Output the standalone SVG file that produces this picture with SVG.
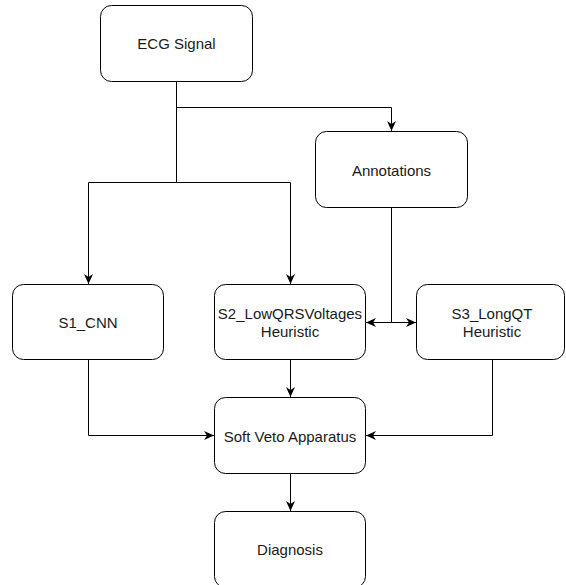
<svg xmlns="http://www.w3.org/2000/svg" width="566" height="585" viewBox="0 0 566 585">
<defs>
<marker id="ah" viewBox="0 0 10 10" refX="10" refY="5" markerWidth="10" markerHeight="10" markerUnits="userSpaceOnUse" orient="auto-start-reverse">
<path d="M0,0.5 L10,5 L0,9.5 L3,5 Z" fill="#000"/>
</marker>
<style>
.box{fill:#fff;stroke:#000;stroke-width:1}
.t{font-family:"Liberation Sans",Arial,sans-serif;font-size:15px;fill:#1a1a1a;text-anchor:middle}
.c{fill:none;stroke:#000;stroke-width:1}
</style>
</defs>
<rect width="566" height="585" fill="#fff"/>
<g id="connectors">
<path class="c" d="M176.5,81 V182.5"/>
<path class="c" d="M176.5,107.5 H391.5 V131" marker-end="url(#ah)"/>
<path class="c" d="M88.5,182.5 H290.5"/>
<path class="c" d="M88.5,182.5 V284" marker-end="url(#ah)"/>
<path class="c" d="M290.5,182.5 V284" marker-end="url(#ah)"/>
<path class="c" d="M391.5,207 V322"/>
<path class="c" d="M366,322.5 H416" marker-start="url(#ah)" marker-end="url(#ah)"/>
<path class="c" d="M290.5,359 V397" marker-end="url(#ah)"/>
<path class="c" d="M88.5,359 V435.5 H214" marker-end="url(#ah)"/>
<path class="c" d="M492.5,359 V435.5 H366" marker-end="url(#ah)"/>
<path class="c" d="M290.5,473 V511" marker-end="url(#ah)"/>
</g>
<g id="ecg"><rect class="box" x="100.5" y="5.5" width="152" height="76" rx="11"/><text class="t" x="176.5" y="49">ECG Signal</text></g>
<g id="annotations"><rect class="box" x="315.5" y="131.5" width="152" height="76" rx="11"/><text class="t" x="391.5" y="176">Annotations</text></g>
<g id="s1"><rect class="box" x="12.5" y="284.5" width="151" height="75" rx="11"/><text class="t" x="88" y="328">S1_CNN</text></g>
<g id="s2"><rect class="box" x="214.5" y="284.5" width="151" height="75" rx="11"/><text class="t" x="290" y="318.5">S2_LowQRSVoltages</text><text class="t" x="290" y="336.5">Heuristic</text></g>
<g id="s3"><rect class="box" x="416.5" y="284.5" width="148" height="75" rx="11"/><text class="t" x="492" y="318.5">S3_LongQT</text><text class="t" x="492" y="336.5">Heuristic</text></g>
<g id="veto"><rect class="box" x="214.5" y="397.5" width="151" height="76" rx="11"/><text class="t" x="290" y="442">Soft Veto Apparatus</text></g>
<g id="diagnosis"><rect class="box" x="214.5" y="511.5" width="151" height="76" rx="11"/><text class="t" x="290" y="555">Diagnosis</text></g>
</svg>
